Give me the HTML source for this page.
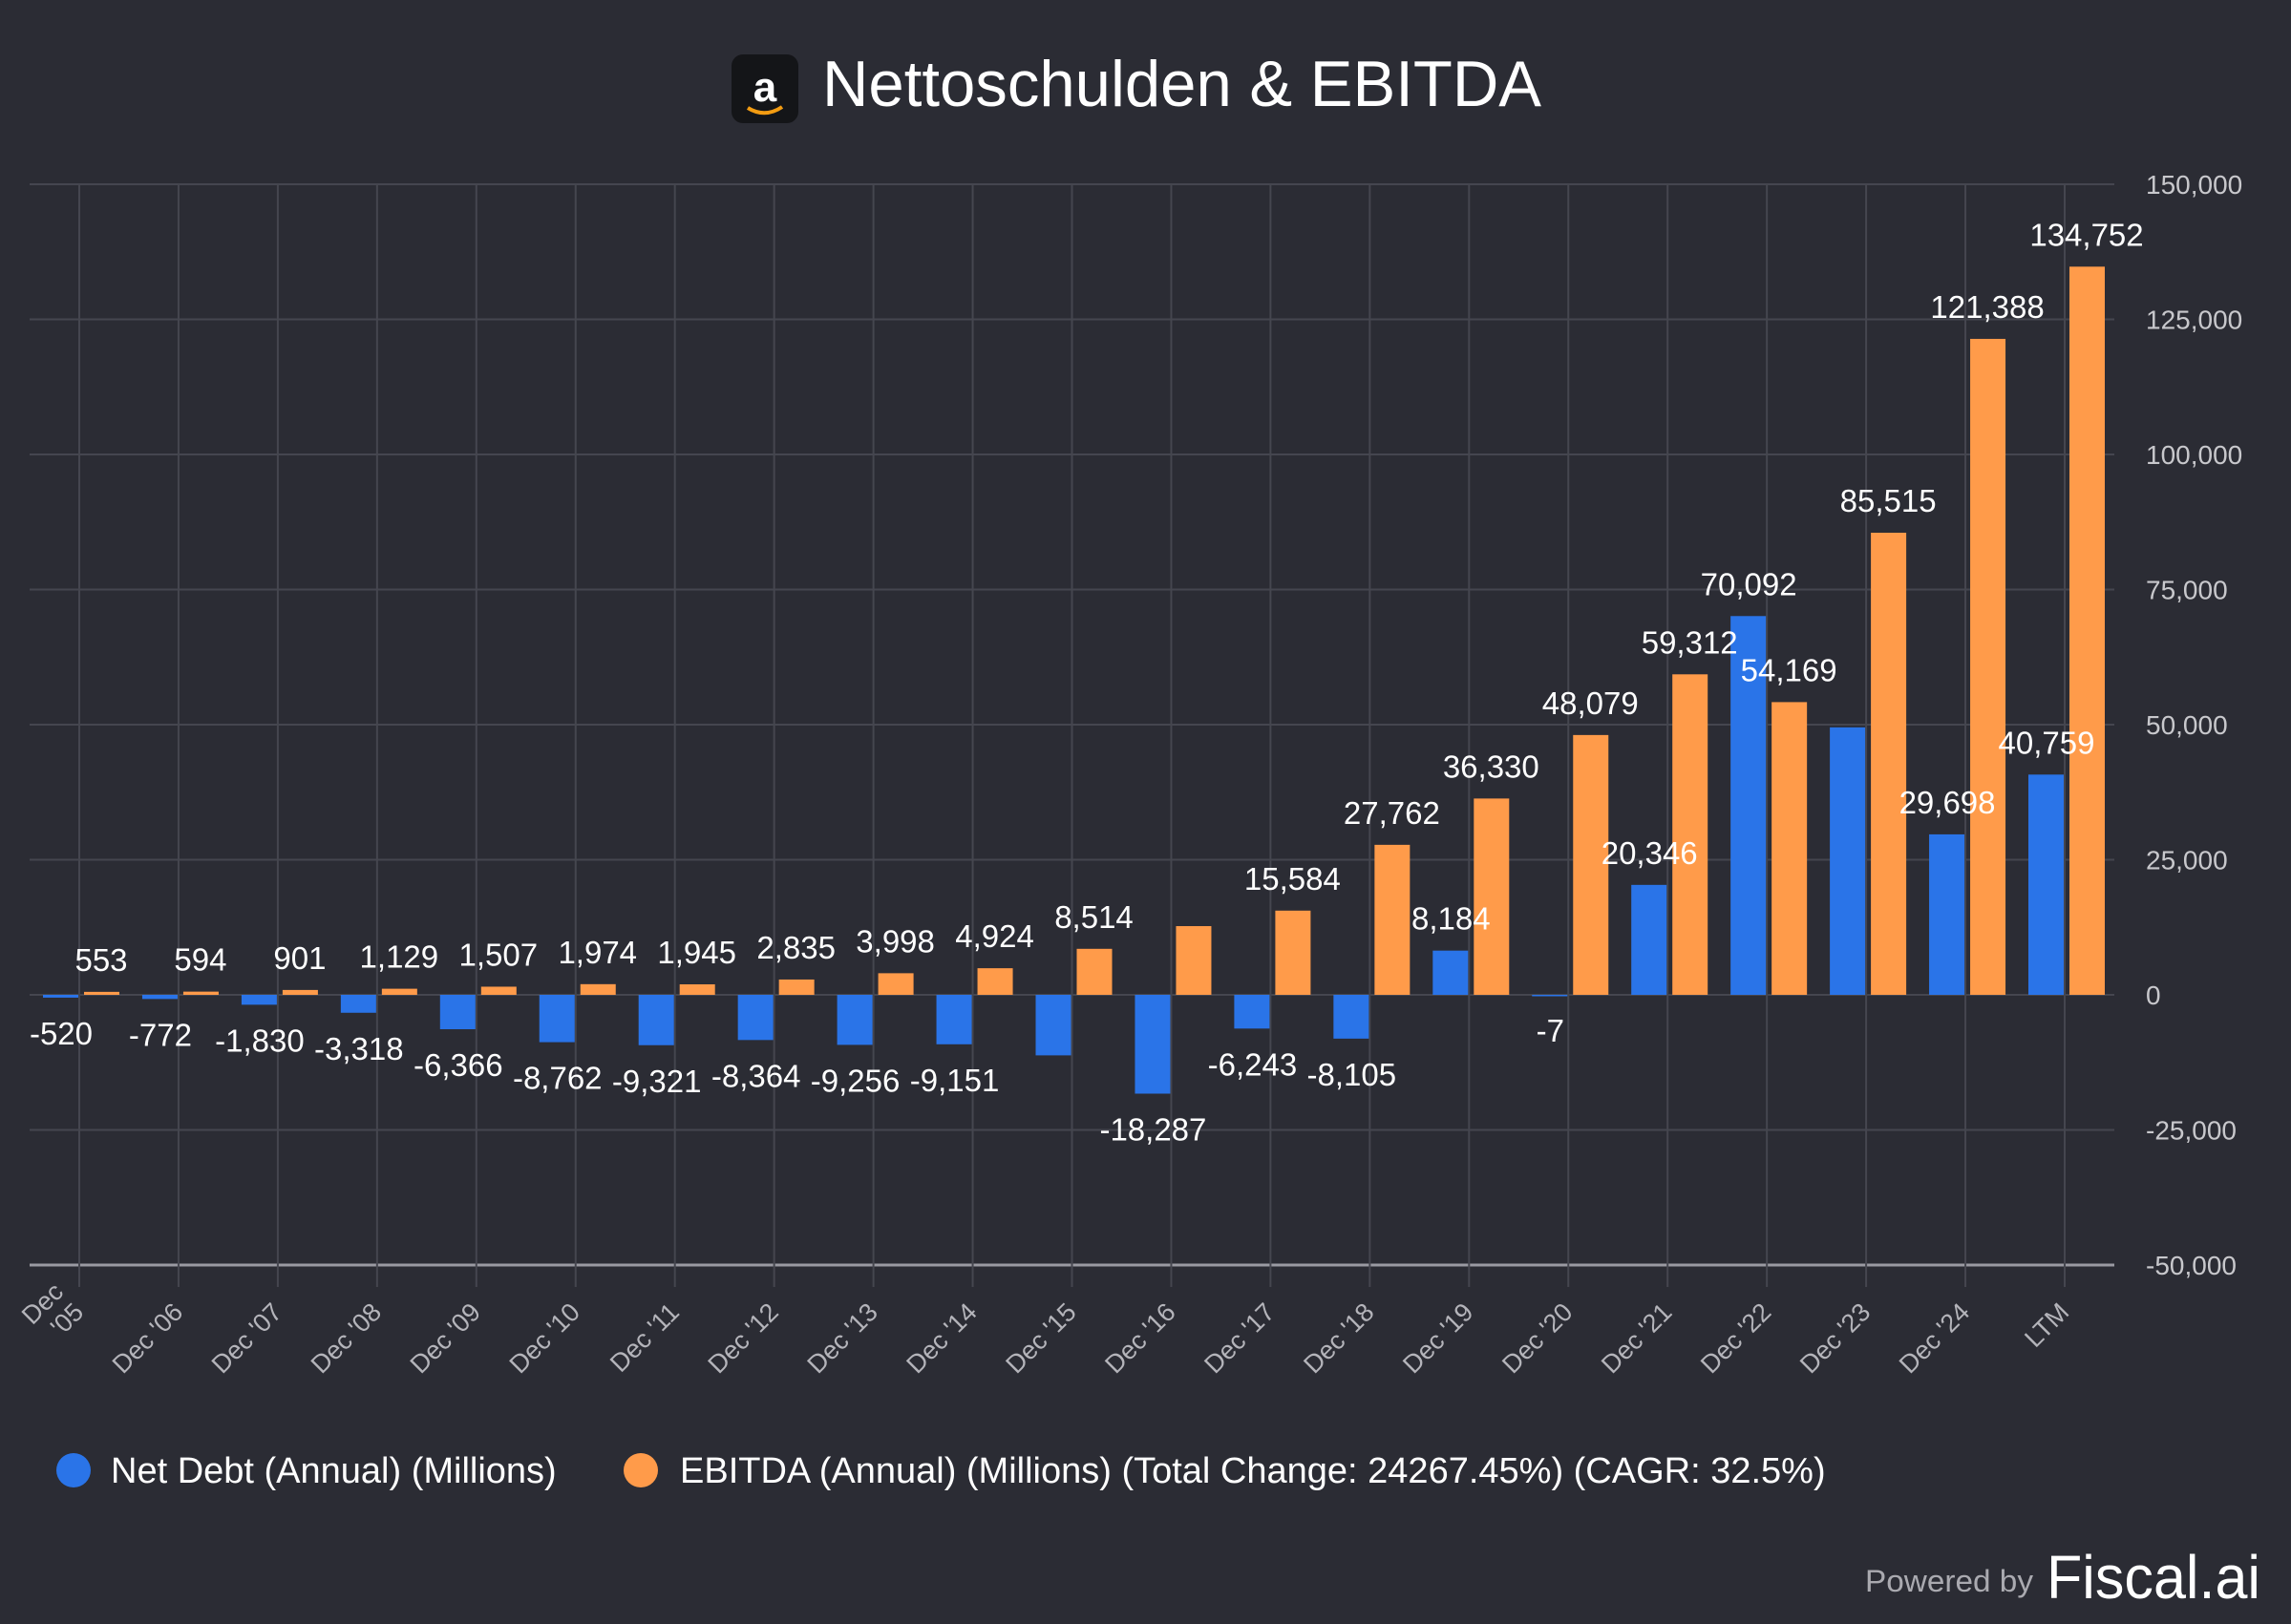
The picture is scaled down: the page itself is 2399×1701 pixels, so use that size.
<!DOCTYPE html>
<html><head><meta charset="utf-8"><style>
html,body{margin:0;padding:0;background:#2b2c34;}
svg{display:block;font-family:"Liberation Sans",Arial,sans-serif;}
</style></head><body>
<svg id="chart" width="2399" height="1701" viewBox="0 0 2399 1701" xmlns="http://www.w3.org/2000/svg">
<rect width="2399" height="1701" fill="#2b2c34"/>
<g>
<rect x="766" y="57" width="70" height="72" rx="12" fill="#141518"/>
<text x="801" y="106" fill="#fff" font-size="44" font-weight="bold" text-anchor="middle">a</text>
<path d="M783 113 Q801 124 819 112" stroke="#f39c12" stroke-width="4" fill="none"/>
</g>
<text x="861" y="111" fill="#fff" font-size="68" textLength="753" lengthAdjust="spacingAndGlyphs">Nettoschulden &amp; EBITDA</text>
<g id="grid"></g><g id="bars"></g><g id="labels"></g>
<g>
<g>
<circle cx="77" cy="1540" r="18" fill="#2a74e8"/>
<text x="116" y="1553" fill="#fff" font-size="38">Net Debt (Annual) (Millions)</text></g>
<g>
<circle cx="671" cy="1540" r="18" fill="#ff9b4a"/>
<text x="712" y="1553" fill="#fff" font-size="38">EBITDA (Annual) (Millions) (Total Change: 24267.45%) (CAGR: 32.5%)</text></g>
</g>
<text x="1953" y="1667" fill="#aaaab0" font-size="32" textLength="176" lengthAdjust="spacingAndGlyphs">Powered by</text>
<text x="2143" y="1674" fill="#fff" font-size="64" textLength="224" lengthAdjust="spacingAndGlyphs">Fiscal.ai</text>
</svg>
<script>
const categories=["Dec '05","Dec '06","Dec '07","Dec '08","Dec '09","Dec '10","Dec '11","Dec '12","Dec '13","Dec '14","Dec '15","Dec '16","Dec '17","Dec '18","Dec '19","Dec '20","Dec '21","Dec '22","Dec '23","Dec '24","LTM"];
const netDebt=[-520,-772,-1830,-3318,-6366,-8762,-9321,-8364,-9256,-9151,-11200,-18287,-6243,-8105,8184,-7,20346,70092,49500,29698,40759];
const netDebtShown=[1,1,1,1,1,1,1,1,1,1,0,1,1,1,1,1,1,1,0,1,1];
const ebitda=[553,594,901,1129,1507,1974,1945,2835,3998,4924,8514,12716,15584,27762,36330,48079,59312,54169,85515,121388,134752];
const ebitdaShown=[1,1,1,1,1,1,1,1,1,1,1,0,1,1,1,1,1,1,1,1,1];
const yTicks=[150000,125000,100000,75000,50000,25000,0,-25000,-50000];
const NS="http://www.w3.org/2000/svg";
const y=v=>1042-v*(141.5/25000);
const x=i=>83+i*103.95;
const fmt=v=>v.toLocaleString('en-US');
function mk(tag,attrs,parent,txt){const e=document.createElementNS(NS,tag);for(const k in attrs)e.setAttribute(k,attrs[k]);if(txt!==undefined)e.textContent=txt;parent.appendChild(e);return e;}
const grid=document.getElementById('grid'),bars=document.getElementById('bars'),labels=document.getElementById('labels');
yTicks.forEach(t=>{
  const l=mk('line',{x1:31,x2:2214,y1:y(t),y2:y(t),stroke:t===-50000?'#9a9aa2':'#45464f','stroke-width':t===-50000?3:2},grid);
  
  
  const tx=mk('text',{x:2247,y:y(t)+10,fill:'#c8c8cc','font-size':28},grid,fmt(t));
  
  
});
categories.forEach((c,i)=>{
  const l=mk('line',{x1:x(i),x2:x(i),y1:193,y2:1348,stroke:'#45464f','stroke-width':2},grid);
  
  
  const tx=mk('text',{x:x(i)+6,y:1376,fill:'#b4b4ba','font-size':27,'text-anchor':'end',transform:`rotate(-45 ${x(i)+6} 1376)`},grid);
  
  
  if(i===0){mk('tspan',{x:x(i)+6,dy:-30},tx,'Dec');mk('tspan',{x:x(i)+6,dy:30},tx,"'05");}
  else tx.textContent=c;
});
categories.forEach((c,i)=>{
  const v=netDebt[i],top=Math.min(y(v),y(0)),h=Math.max(Math.abs(y(v)-y(0)),1.5);
  const b=mk('rect',{x:x(i)-38,y:top,width:37,height:h,fill:'#2a74e8'},bars);
  
  
  const e=ebitda[i],et=y(e);
  const b2=mk('rect',{x:x(i)+5,y:et,width:37,height:y(0)-et,fill:'#ff9b4a'},bars);
  
  
  if(netDebtShown[i]){
    const ly=v>=0?y(v)-22:y(v)+49;
    const t=mk('text',{x:x(i)-19,y:ly,fill:'#fff','font-size':33,'text-anchor':'middle'},labels,fmt(v));
    
    
  }
  if(ebitdaShown[i]){
    const t=mk('text',{x:x(i)+23,y:et-22,fill:'#fff','font-size':33,'text-anchor':'middle'},labels,fmt(e));
    
    
  }
});
</script>
</body></html>
